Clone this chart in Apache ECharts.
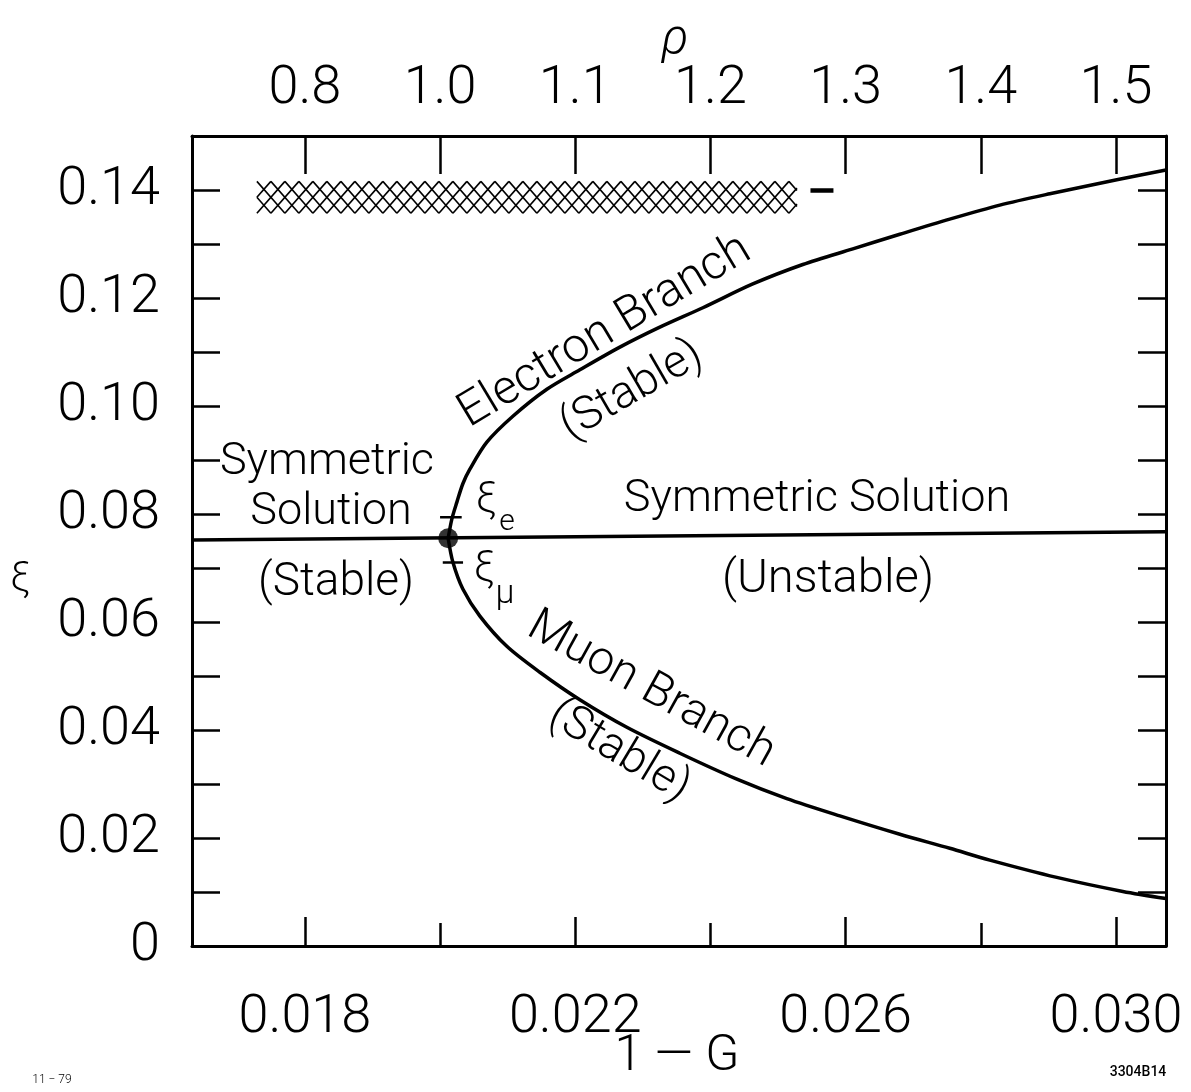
<!DOCTYPE html>
<html>
<head>
<meta charset="utf-8">
<script src="https://cdn.jsdelivr.net/npm/echarts@6/dist/echarts.min.js"></script>
<style>
html,body{margin:0;padding:0;background:#fff;}
#chart{width:1191px;height:1092px;}
</style>
</head>
<body>
<div id="chart"></div>
<script>
// ---------- data ----------
const xMin = 0.01633, xMax = 0.03074;
const yMin = 0, yMax = 0.15;

const bottomMajorTicks = [0.018, 0.022, 0.026, 0.030];
const bottomTickLabels = ['0.018', '0.022', '0.026', '0.030'];
const bottomMinorTicks = [0.020, 0.024, 0.028];

const rhoTickPos = [0.018, 0.020, 0.022, 0.024, 0.026, 0.028, 0.030];
const rhoTickLabels = ['0.8', '1.0', '1.1', '1.2', '1.3', '1.4', '1.5'];

const yLabelValues = [0, 0.02, 0.04, 0.06, 0.08, 0.10, 0.12, 0.14];
const yTickLabels = ['0', '0.02', '0.04', '0.06', '0.08', '0.10', '0.12', '0.14'];

// symmetric solution
const symX = [0.01633, 0.03074];
const symY = [0.0752, 0.0767];

// bifurcation point
const bifX = [0.02012];
const bifY = [0.0755];

// electron branch
const electronX = [0.02012, 0.020175, 0.020249, 0.020337, 0.020441, 0.020692, 0.021077, 0.02158, 0.022068, 0.02266, 0.023251, 0.023888, 0.024627, 0.025367, 0.026107, 0.026802, 0.027541, 0.028281, 0.029021, 0.030012, 0.03074];
const electronY = [0.0755, 0.0791, 0.0822, 0.0856, 0.0883, 0.0933, 0.0981, 0.1031, 0.1067, 0.1109, 0.1146, 0.1182, 0.1226, 0.1262, 0.1291, 0.1318, 0.1346, 0.1372, 0.1393, 0.1419, 0.1437];

// muon branch
const muonX = [0.02012, 0.020189, 0.020337, 0.020589, 0.020988, 0.021476, 0.022068, 0.022763, 0.023547, 0.024391, 0.02513, 0.025914, 0.026802, 0.027541, 0.028133, 0.029124, 0.030101, 0.03074];
const muonY = [0.0755, 0.0711, 0.0661, 0.0611, 0.0555, 0.0507, 0.0456, 0.0405, 0.0357, 0.0309, 0.0273, 0.0241, 0.0207, 0.0181, 0.0159, 0.0127, 0.0101, 0.0088];

// xi_e / xi_mu tick marks
const xiTickX1 = [0.02000, 0.02004];
const xiTickX2 = [0.02032, 0.02034];
const xiTickY = [0.0794, 0.0710];

// hatched band (experimental range) and dash
const bandX = [0.01729, 0.02528];
const bandY = [0.1357, 0.1416];
const dashX = [0.02548, 0.02582];
const dashY = [0.1399, 0.1399];

// ---------- chart ----------
const FONT = 'Roboto, "Noto Sans", "DejaVu Sans", sans-serif';
const chart = echarts.init(document.getElementById('chart'), null, {renderer: 'canvas'});

function zip(xs, ys) { return xs.map((x, i) => [x, ys[i]]); }
function lookup(vals, labels, v) {
  let best = 0, bd = Infinity;
  vals.forEach((t, i) => { const d = Math.abs(t - v); if (d < bd) { bd = d; best = i; } });
  return bd < 1e-6 ? labels[best] : '';
}

const axisLineStyle = {color: '#000', width: 3};
const labelStyle = {color: '#000', fontFamily: FONT, fontWeight: 300, fontSize: 54};

const texts = [
  {t: 'Symmetric', x: 327, y: 463, s: 45, r: 0},
  {t: 'Solution', x: 331, y: 513, s: 45, r: 0},
  {t: '(Stable)', x: 336, y: 583, s: 46, r: 0},
  {t: 'Symmetric Solution', x: 817, y: 500, s: 45, r: 0},
  {t: '(Unstable)', x: 828, y: 580, s: 47, r: 0},
  {t: 'Electron Branch', x: 605, y: 332, s: 48, r: 31},
  {t: '(Stable)', x: 632, y: 391, s: 46, r: 30},
  {t: 'Muon Branch', x: 651, y: 690, s: 47, r: -29},
  {t: '(Stable)', x: 619, y: 752, s: 46, r: -31},
  {t: 'ξ', x: 486, y: 500, s: 42, r: 0},
  {t: 'e', x: 507, y: 522, s: 30, r: 0},
  {t: 'ξ', x: 484, y: 569, s: 42, r: 0},
  {t: 'μ', x: 505, y: 594, s: 34, r: 0},
  {t: 'ρ', x: 675, y: 40, s: 50, r: 0, italic: true},
  {t: '1 — G', x: 677, y: 1057, s: 50, r: 0},
  {t: 'ξ', x: 20, y: 580, s: 40, r: 0},
  {t: '11 − 79', x: 52, y: 1080, s: 12, r: 0},
  {t: '3304B14', x: 1138, y: 1072, s: 14, r: 0, bold: true}
];

const graphics = texts.map(o => ({
  type: 'text',
  x: o.x, y: o.y,
  rotation: o.r * Math.PI / 180,
  z: 100,
  style: {
    text: o.t,
    fill: '#000',
    font: (o.italic ? 'italic ' : '') + (o.bold ? '500 ' : '300 ') + o.s + 'px ' + FONT,
    align: 'center',
    verticalAlign: 'middle'
  }
}));

function renderBand(params, api) {
  const a = api.coord([api.value(0), api.value(3)]);
  const b = api.coord([api.value(2), api.value(1)]);
  const x1 = a[0], y1 = a[1], x2 = b[0], y2 = b[1];
  const w = 14;          // horizontal period of the cross-hatch
  const run = 2 * w;     // two rows of diamonds across the band
  const children = [];
  function seg(xa, ya, xb, yb) {
    const xs = Math.max(x1, xa), xe = Math.min(x2, xb);
    if (xe <= xs) return;
    const ys = ya + (yb - ya) * (xs - xa) / (xb - xa);
    const ye = ya + (yb - ya) * (xe - xa) / (xb - xa);
    children.push({type: 'line', shape: {x1: xs, y1: ys, x2: xe, y2: ye},
      style: {stroke: '#000', lineWidth: 1.6}});
  }
  for (let a0 = x1 - run; a0 <= x2; a0 += w) {
    seg(a0, y1, a0 + run, y2);
    seg(a0, y2, a0 + run, y1);
  }
  return {type: 'group', children};
}

const option = {
  backgroundColor: '#fff',
  animation: false,
  grid: {left: 192, right: 25, top: 136, bottom: 146, containLabel: false},
  xAxis: [
    {
      type: 'value', position: 'bottom', min: xMin, max: xMax,
      axisLine: {show: true, onZero: false, lineStyle: axisLineStyle},
      splitLine: {show: false},
      axisTick: {show: true, inside: true, length: 29, lineStyle: {color: '#000', width: 2.5}, customValues: bottomMajorTicks},
      axisLabel: {show: true, margin: 45, customValues: bottomMajorTicks,
        formatter: v => lookup(bottomMajorTicks, bottomTickLabels, v), ...labelStyle}
    },
    {
      type: 'value', position: 'bottom', min: xMin, max: xMax,
      axisLine: {show: false, onZero: false},
      splitLine: {show: false},
      axisTick: {show: true, inside: true, length: 23, lineStyle: {color: '#000', width: 2.5}, customValues: bottomMinorTicks},
      axisLabel: {show: false}
    },
    {
      type: 'value', position: 'top', min: xMin, max: xMax,
      axisLine: {show: true, onZero: false, lineStyle: axisLineStyle},
      splitLine: {show: false},
      axisTick: {show: true, inside: true, length: 38, lineStyle: {color: '#000', width: 2.5}, customValues: rhoTickPos},
      axisLabel: {show: true, margin: 20, customValues: rhoTickPos,
        formatter: v => lookup(rhoTickPos, rhoTickLabels, v), ...labelStyle}
    }
  ],
  yAxis: [
    {
      type: 'value', position: 'left', min: yMin, max: yMax, interval: 0.01,
      axisLine: {show: true, onZero: false, lineStyle: axisLineStyle},
      splitLine: {show: false},
      axisTick: {show: true, inside: true, length: 28, lineStyle: {color: '#000', width: 2.5}},
      axisLabel: {show: true, margin: 32, customValues: yLabelValues,
        formatter: v => lookup(yLabelValues, yTickLabels, v), ...labelStyle}
    },
    {
      type: 'value', position: 'right', min: yMin, max: yMax, interval: 0.01,
      axisLine: {show: true, onZero: false, lineStyle: axisLineStyle},
      splitLine: {show: false},
      axisTick: {show: true, inside: true, length: 28, lineStyle: {color: '#000', width: 2.5}},
      axisLabel: {show: false}
    }
  ],
  graphic: graphics,
  series: [
    {
      name: 'symmetric', type: 'line', xAxisIndex: 0, yAxisIndex: 0,
      data: zip(symX, symY), showSymbol: false, symbol: 'none',
      lineStyle: {color: '#000', width: 3.5}
    },
    {
      name: 'electron', type: 'line', xAxisIndex: 0, yAxisIndex: 0,
      data: zip(electronX, electronY), showSymbol: false, symbol: 'none',
      smooth: 0.3, lineStyle: {color: '#000', width: 3.5}
    },
    {
      name: 'muon', type: 'line', xAxisIndex: 0, yAxisIndex: 0,
      data: zip(muonX, muonY), showSymbol: false, symbol: 'none',
      smooth: 0.3, lineStyle: {color: '#000', width: 3.5}
    },
    {
      name: 'xiTickE', type: 'line', xAxisIndex: 0, yAxisIndex: 0,
      data: [[xiTickX1[0], xiTickY[0]], [xiTickX2[0], xiTickY[0]]], symbol: 'none',
      lineStyle: {color: '#000', width: 2.5}
    },
    {
      name: 'xiTickMu', type: 'line', xAxisIndex: 0, yAxisIndex: 0,
      data: [[xiTickX1[1], xiTickY[1]], [xiTickX2[1], xiTickY[1]]], symbol: 'none',
      lineStyle: {color: '#000', width: 2.5}
    },
    {
      name: 'dash', type: 'line', xAxisIndex: 0, yAxisIndex: 0,
      data: zip(dashX, dashY), symbol: 'none',
      lineStyle: {color: '#000', width: 4.5}
    },
    {
      name: 'band', type: 'custom', xAxisIndex: 0, yAxisIndex: 0, clip: false,
      renderItem: renderBand,
      encode: {x: [0, 2], y: [1, 3]},
      data: [[bandX[0], bandY[0], bandX[1], bandY[1]]]
    },
    {
      name: 'bifurcation', type: 'scatter', xAxisIndex: 0, yAxisIndex: 0,
      data: zip(bifX, bifY), symbol: 'circle', symbolSize: 20,
      itemStyle: {color: '#000'}, z: 10
    }
  ]
};
chart.setOption(option);
</script>
</body>
</html>
